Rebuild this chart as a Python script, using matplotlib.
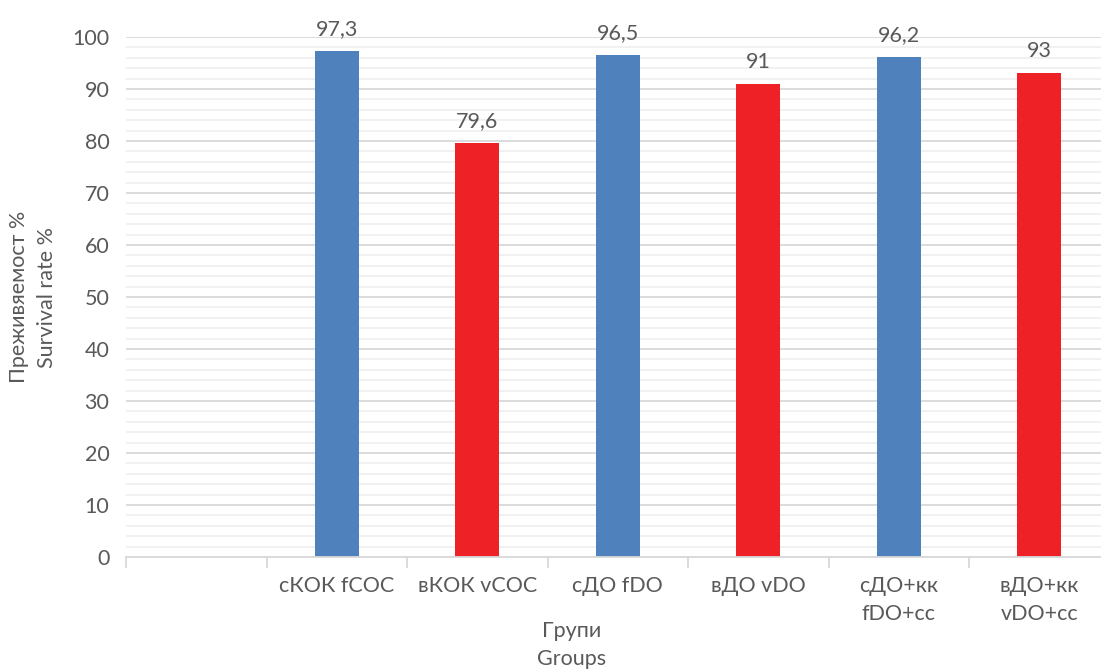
import matplotlib
matplotlib.use("Agg")
import matplotlib.pyplot as plt
import numpy as np
from matplotlib.ticker import MultipleLocator, FixedLocator

plt.rcParams['font.family'] = ['Lato', 'Open Sans', 'DejaVu Sans']

# Survival rate per group (first slot is intentionally left empty)
groups = ["", "сКОК fCOC", "вКОК vCOC", "сДО fDO", "вДО vDO", "сДО+кк\nfDO+cc", "вДО+кк\nvDO+cc"]
survival = [np.nan, 97.3, 79.6, 96.5, 91, 96.2, 93]
value_labels = ["", "97,3", "79,6", "96,5", "91", "96,2", "93"]
bar_colors = ["#4f81bd", "#4f81bd", "#ee2226", "#4f81bd", "#ee2226", "#4f81bd", "#ee2226"]

text_color = "#595959"
fs = 15.5
W, H = 1101, 671

fig = plt.figure(figsize=(W / 100, H / 100), dpi=100)
ax = fig.add_axes([126 / W, 1 - 557 / H, (1109.5 - 126) / W, (557 - 37) / H])

x = np.arange(len(groups))
ax.bar(x, survival, width=0.31, color=bar_colors, zorder=3)

for xi, v, lab in zip(x, survival, value_labels):
    if lab:
        ax.annotate(lab, (xi, v), xytext=(0, 12), textcoords="offset pixels",
                    ha="center", va="bottom", fontsize=fs, color=text_color)

ax.set_xlim(-0.5, len(groups) - 0.5)
ax.set_ylim(0, 100)

# y gridlines: major every 10, faint minor every 2
ax.yaxis.set_major_locator(MultipleLocator(10))
ax.yaxis.set_minor_locator(MultipleLocator(2))
ax.grid(axis="y", which="major", color="#d9d9d9", linewidth=1.3, zorder=0)
ax.grid(axis="y", which="minor", color="#f0f0f0", linewidth=1.3, zorder=0)

# category labels at centres, tick marks at the boundaries
ax.set_xticks(x)
ax.set_xticklabels(groups)
for t in ax.get_xticklabels():
    t.set_linespacing(1.45)
ax.xaxis.set_minor_locator(FixedLocator(np.arange(-0.5, len(groups), 1.0)))
ax.tick_params(axis="x", which="major", length=0, pad=14, labelsize=fs, labelcolor=text_color)
ax.tick_params(axis="x", which="minor", length=8, width=1.3, color="#d9d9d9")
ax.tick_params(axis="y", which="both", length=0, pad=12, labelsize=fs, labelcolor=text_color)

for side in ["top", "right", "left"]:
    ax.spines[side].set_visible(False)
ax.spines["bottom"].set_color("#d9d9d9")
ax.spines["bottom"].set_linewidth(1.3)
ax.spines["bottom"].set_zorder(4)

fig.text(33 / W, 1 - 297 / H, "Преживяемост %\nSurvival rate %", rotation=90,
         ha="center", va="center", fontsize=fs, color=text_color, linespacing=1.45)
fig.text(572 / W, 1 - 645 / H, "Групи\nGroups", ha="center", va="center",
         fontsize=fs, color=text_color, linespacing=1.45)

fig.savefig("out.png", dpi=100)
